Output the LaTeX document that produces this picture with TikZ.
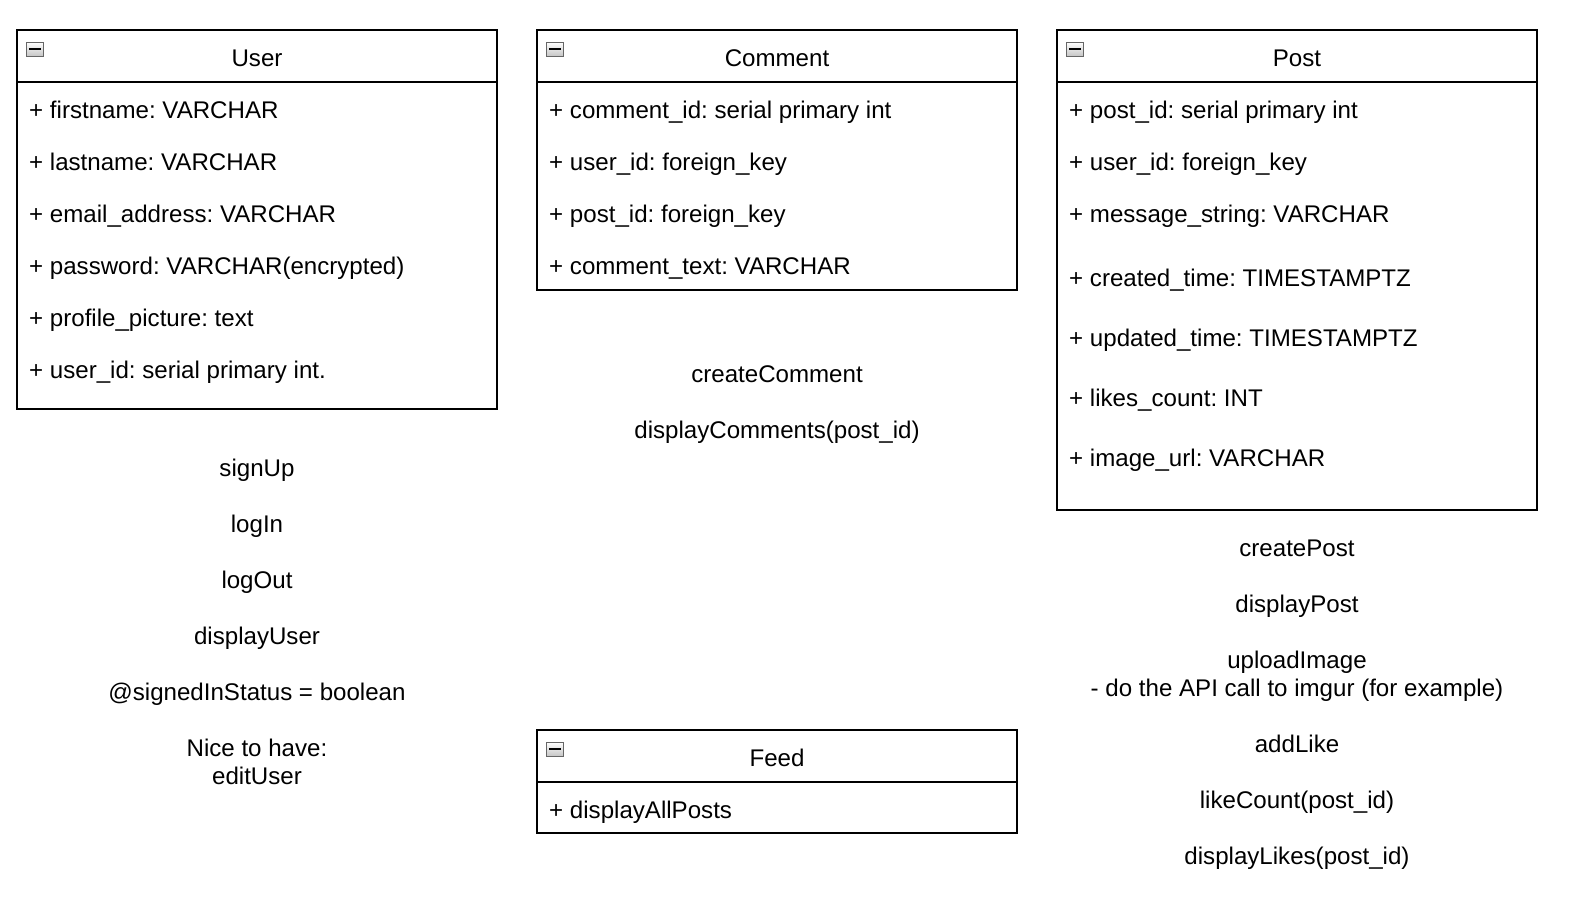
\documentclass[tikz,border=0pt]{standalone}
\usepackage{fontspec}
\setmainfont{Liberation Sans}
\frenchspacing
\begin{document}
\begin{tikzpicture}[x=1pt,y=-1pt,
  box/.style={draw=black,line width=1.6pt},
  lbl/.style={inner sep=0pt,text height=17pt,text depth=0pt,font=\fontsize{24.1}{28}\selectfont\frenchspacing},
  row/.style={lbl,anchor=west},
  ttl/.style={lbl,anchor=center},
  icon/.style={draw=gray!80!black,line width=0.6pt,top color=white,bottom color=gray!45,inner sep=0pt,minimum width=17pt,minimum height=14pt}
]
\useasboundingbox (0,0) rectangle (1580,916);
% --- User
\draw[box] (17,30) rectangle (497,409);
\draw[box] (17,82) -- (497,82);
\node[icon] (iu) at (35,49) {}; \draw[line width=2.2pt] ([xshift=3pt]iu.west) -- ([xshift=-3pt]iu.east);
\node[ttl] (tu) at (257,58) {User};
\node[row] (u1) at (29,110) {+ firstname: VARCHAR};
\node[row] (u2) at (29,162) {+ lastname: VARCHAR};
\node[row] (u3) at (29,214) {+ email\_address: VARCHAR};
\node[row] (u4) at (29,266) {+ password: VARCHAR(encrypted)};
\node[row] (u5) at (29,318) {+ profile\_picture: text};
\node[row] (u6) at (29,370) {+ user\_id: serial primary int.};
% --- Comment
\draw[box] (537,30) rectangle (1017,290);
\draw[box] (537,82) -- (1017,82);
\node[icon] (ic) at (555,49) {}; \draw[line width=2.2pt] ([xshift=3pt]ic.west) -- ([xshift=-3pt]ic.east);
\node[ttl] (tc) at (777,58) {Comment};
\node[row] (c1) at (549,110) {+ comment\_id: serial primary int};
\node[row] (c2) at (549,162) {+ user\_id: foreign\_key};
\node[row] (c3) at (549,214) {+ post\_id: foreign\_key};
\node[row] (c4) at (549,266) {+ comment\_text: VARCHAR};
% --- Post
\draw[box] (1057,30) rectangle (1537,510);
\draw[box] (1057,82) -- (1537,82);
\node[icon] (ip) at (1075,49) {}; \draw[line width=2.2pt] ([xshift=3pt]ip.west) -- ([xshift=-3pt]ip.east);
\node[ttl] (tp) at (1297,58) {Post};
\node[row] (p1) at (1069,110) {+ post\_id: serial primary int};
\node[row] (p2) at (1069,162) {+ user\_id: foreign\_key};
\node[row] (p3) at (1069,214) {+ message\_string: VARCHAR};
\node[row] (p4) at (1069,278) {+ created\_time: TIMESTAMPTZ};
\node[row] (p5) at (1069,338) {+ updated\_time: TIMESTAMPTZ};
\node[row] (p6) at (1069,398) {+ likes\_count: INT};
\node[row] (p7) at (1069,458) {+ image\_url: VARCHAR};
% --- Feed
\draw[box] (537,730) rectangle (1017,833);
\draw[box] (537,782) -- (1017,782);
\node[icon] (if) at (555,749) {}; \draw[line width=2.2pt] ([xshift=3pt]if.west) -- ([xshift=-3pt]if.east);
\node[ttl] (tf) at (777,758) {Feed};
\node[row] (f1) at (549,810) {+ displayAllPosts};
% --- free texts
\node[ttl] (m1) at (257,468) {signUp};
\node[ttl] (m2) at (257,524) {logIn};
\node[ttl] (m3) at (257,580) {logOut};
\node[ttl] (m4) at (257,636) {displayUser};
\node[ttl] (m5) at (257,692) {@signedInStatus = boolean};
\node[ttl] (m6) at (257,748) {Nice to have:};
\node[ttl] (m7) at (257,776) {editUser};
\node[ttl] (n1) at (777,374) {createComment};
\node[ttl] (n2) at (777,430) {displayComments(post\_id)};
\node[ttl] (q1) at (1297,548) {createPost};
\node[ttl] (q2) at (1297,604) {displayPost};
\node[ttl] (q3) at (1297,660) {uploadImage};
\node[ttl] (q4) at (1297,688) {- do the API call to imgur (for example)};
\node[ttl] (q5) at (1297,744) {addLike};
\node[ttl] (q6) at (1297,800) {likeCount(post\_id)};
\node[ttl] (q7) at (1297,856) {displayLikes(post\_id)};
\end{tikzpicture}
\end{document}
